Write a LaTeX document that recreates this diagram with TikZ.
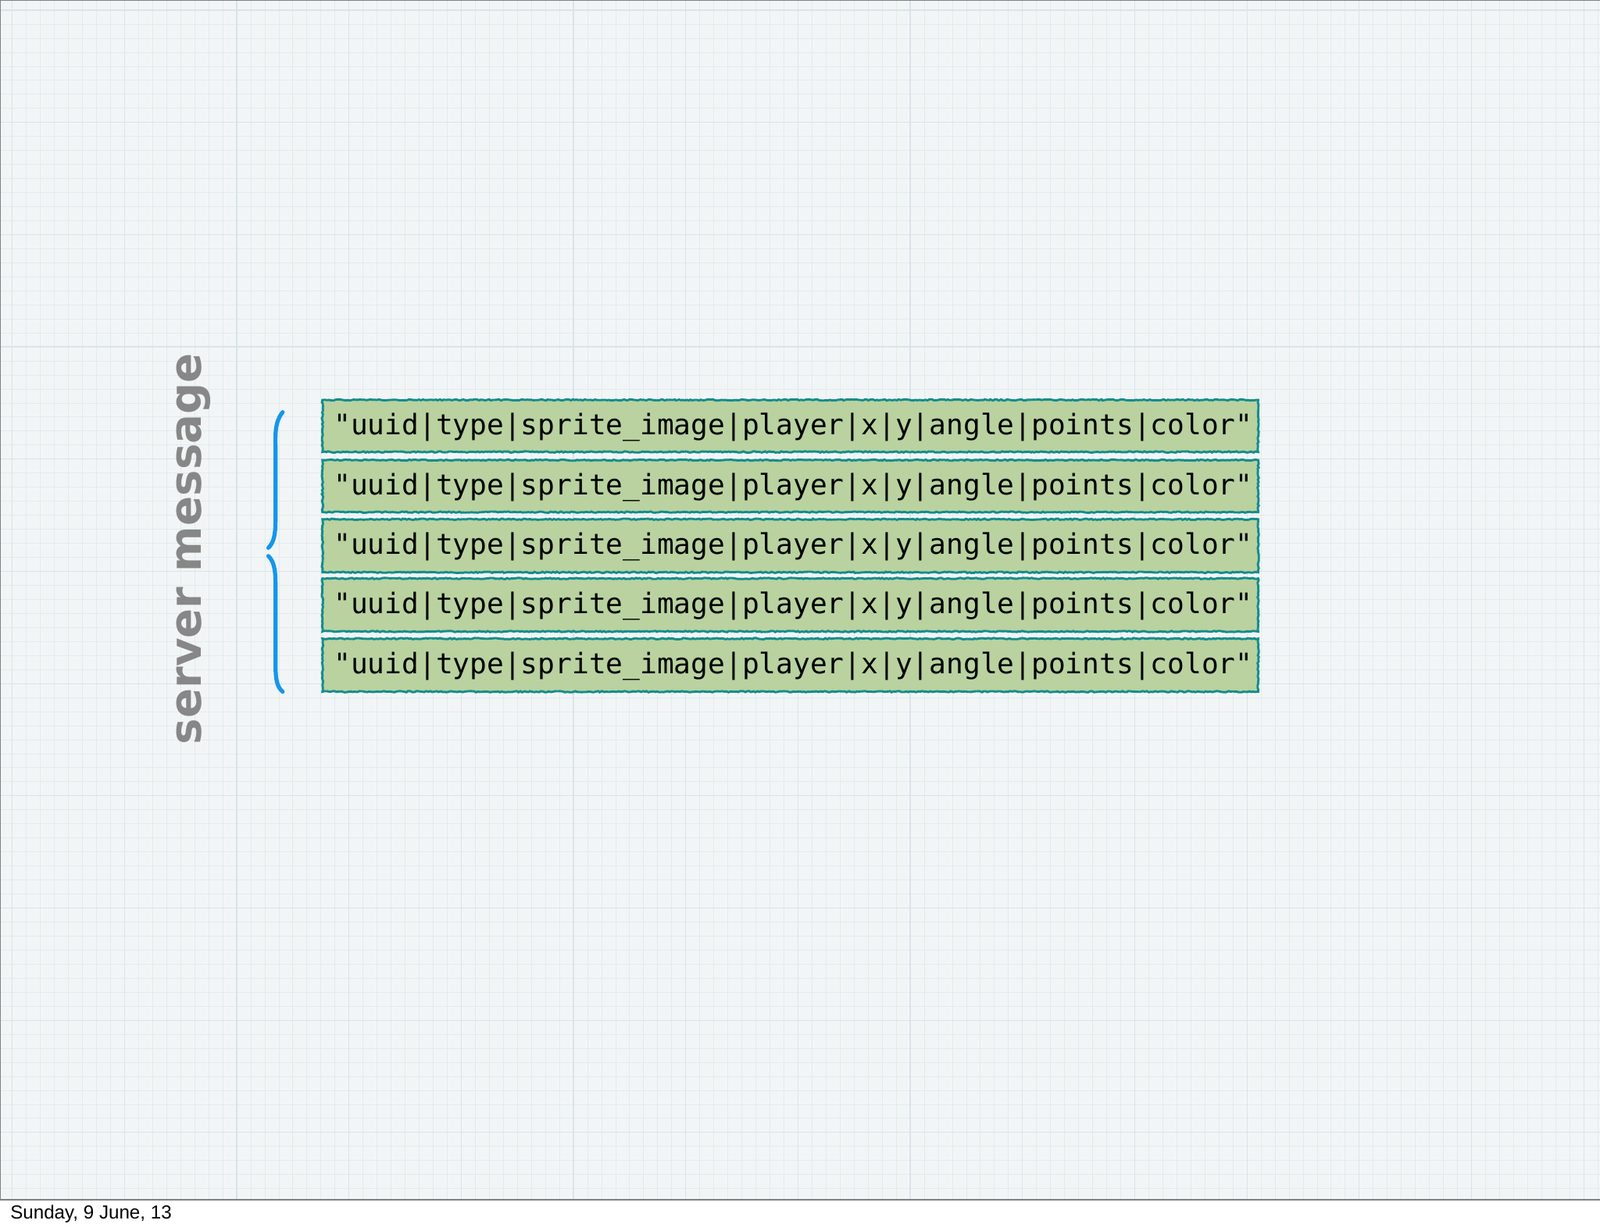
\documentclass[tikz,border=0pt]{standalone}
\usepackage{fontspec}
\newfontfamily\monof{DejaVu Sans Mono}
\newfontfamily\handf{DejaVu Sans}
\newfontfamily\footf{Liberation Sans}
\usetikzlibrary{decorations.pathmorphing}
\definecolor{bg}{RGB}{242,245,246}
\definecolor{gridfine}{RGB}{226,235,237}
\definecolor{gridmaj}{RGB}{216,228,231}
\definecolor{boxfill}{RGB}{185,210,160}
\definecolor{boxline}{RGB}{20,140,140}
\definecolor{bracec}{RGB}{20,150,235}
\definecolor{handgrey}{RGB}{135,135,135}
\tikzset{msgbox/.style={draw=boxline,fill=boxfill,line width=2.2pt,
  decorate,decoration={random steps,segment length=2pt,amplitude=0.6pt}},
  msgtext/.style={font=\monof\fontsize{27.7}{29}\selectfont,anchor=west,inner sep=0pt},
  bracepath/.style={draw=bracec,line width=4pt,line cap=round}}
\begin{document}
\begin{tikzpicture}[x=1pt,y=-1pt]
\useasboundingbox (0,0) rectangle (1568,1206);
\fill[white] (0,0) rectangle (1568,1206);
\fill[bg] (0,0) rectangle (1568,1176);
\begin{scope}
\clip (0,0) rectangle (1568,1176);
\foreach \i in {0,...,114} {\draw[gridfine,line width=0.6pt] ({12+\i*13.75},0) -- ({12+\i*13.75},1176);}
\foreach \i in {0,...,86} {\draw[gridfine,line width=0.6pt] (0,{10+\i*13.75}) -- (1568,{10+\i*13.75});}
\foreach \i in {0,...,14} {\draw[gridmaj,line width=0.9pt] ({12+\i*110},0) -- ({12+\i*110},1176);}
\foreach \i in {0,...,11} {\draw[gridmaj,line width=0.9pt] (0,{10+\i*110}) -- (1568,{10+\i*110});}
\end{scope}
\draw[black!70,line width=1pt] (0,1176) -- (1568,1176);
\draw[black!50,line width=0.8pt] (0,0) rectangle (1568,1176);
\foreach \n/\t/\b in {r1/392/443, r2/451/502, r3/509/561, r4/567/619, r5/626/678} {
  \path[msgbox] (316,\t) rectangle (1233,\b);
  \node[msgtext] (\n) at (327,{(\t+\b)/2+1}) {"uuid|type|sprite\_image|player|x|y|angle|points|color"};
}
\coordinate (bt) at (277,404);
\coordinate (bm1) at (263,537);
\coordinate (bm2) at (263,545);
\coordinate (bb) at (277,678);
\draw[bracepath] (bt) .. controls (269,414) and (270,425) .. (270,440) -- (270,510) .. controls (270,525) and (268,532) .. (bm1);
\draw[bracepath] (bm2) .. controls (268,550) and (270,557) .. (270,572) -- (270,650) .. controls (270,665) and (271,673) .. (bb);
\node[rotate=90,text=handgrey,font=\handf\bfseries\fontsize{43}{43}\selectfont,inner sep=0pt] (lbl) at (190,538) {server message};
\node[anchor=west,font=\footf\fontsize{18.5}{19}\selectfont,inner sep=0pt] (foot) at (10,1190) {Sunday, 9 June, 13};
\end{tikzpicture}
\end{document}
